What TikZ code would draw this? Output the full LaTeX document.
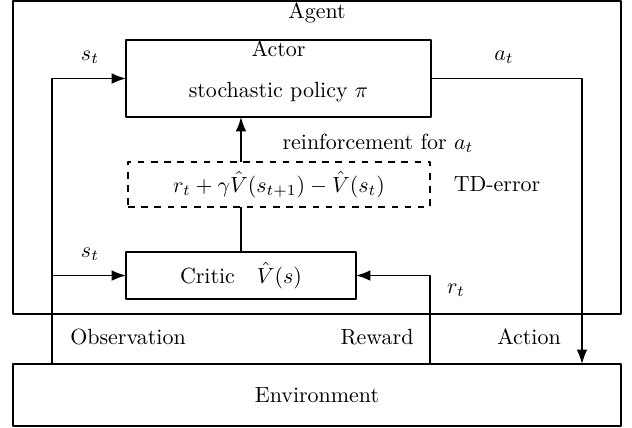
\documentclass[tikz,border=0pt]{standalone}
\usetikzlibrary{arrows.meta}
\begin{document}
\begin{tikzpicture}[x=0.016cm, y=-0.016cm, line join=round, >={Latex}, thick,
	box/.style={draw, inner sep=0pt, outer sep=0pt},
	tdbox/.style={box, dashed}]
	\useasboundingbox (0,0) rectangle (632,427);
	% frames
	\node[box, minimum width=9.728cm, minimum height=5.008cm] (agent) at (317,157.5) {};
	\node[box, minimum width=9.728cm, minimum height=0.992cm] (env) at (317,395) {Environment};
	\node (agentlbl) at (317,13) {Agent};
	% actor and critic
	\node[box, minimum width=4.88cm, minimum height=1.232cm] (actor) at (278.5,78.5) {};
	\node (actorlbl) at (278.5,49) {Actor};
	\node (policylbl) at (278.5,92) {stochastic policy $\pi$};
	\node[tdbox, minimum width=4.832cm, minimum height=0.72cm] (tderr) at (279,184.5) {$r_t+\gamma\hat{V}(s_{t+1})-\hat{V}(s_t)$};
	\node[box, minimum width=3.68cm, minimum height=0.752cm] (critic) at (241,275.5) {Critic\quad$\hat{V}(s)$};
	% lines
	\coordinate (obs) at (52,0);
	\coordinate (act) at (582,0);
	\coordinate (rew) at (430,0);
	\draw[->] (env.north -| obs) |- (actor.west);
	\draw[->] (obs |- critic.west) -- (critic.west);
	\draw[->] (actor.east) -| (act |- env.north);
	\draw[->] (env.north -| rew) |- (critic.east);
	\draw (critic.north) -- (critic.north |- tderr.south);
	\draw[->] (critic.north |- tderr.north) -- (critic.north |- actor.south);
	% labels
	\node (st1) at (90,57) {$s_t$};
	\node (st2) at (90,254) {$s_t$};
	\node (at) at (504,57) {$a_t$};
	\node (rt) at (456,290) {$r_t$};
	\node (reinf) at (378,143) {reinforcement for $a_t$};
	\node (tdlbl) at (497,184) {TD-error};
	\node (obslbl) at (128,337) {Observation};
	\node (rewlbl) at (377,337) {Reward};
	\node (actlbl) at (529,337) {Action};
\end{tikzpicture}
\end{document}
